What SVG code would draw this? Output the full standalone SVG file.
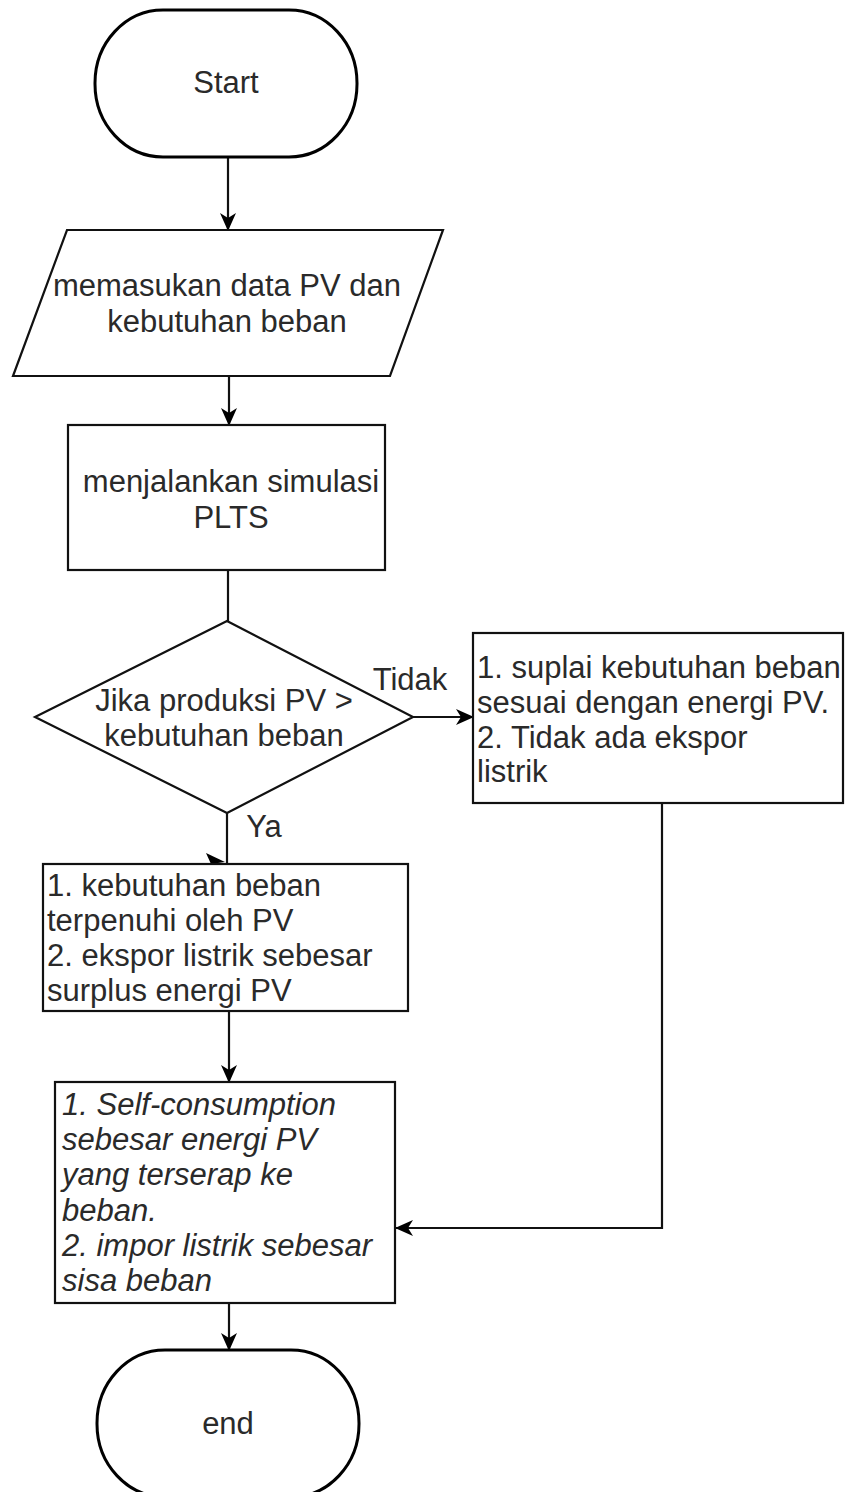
<svg xmlns="http://www.w3.org/2000/svg" width="846" height="1492" viewBox="0 0 846 1492">
<defs>
<style>
.shape{fill:#fff;stroke:#111;stroke-width:2.2}
.term{fill:#fff;stroke:#000;stroke-width:3}
.t{font-family:"Liberation Sans",Arial,sans-serif;font-size:31px;fill:#2a2a2a}
.c{text-anchor:middle}
.i{font-style:italic}
.conn{fill:none;stroke:#111;stroke-width:2.2}
</style>
<marker id="arr" markerUnits="userSpaceOnUse" viewBox="0 0 18 16" markerWidth="18" markerHeight="16" refX="17" refY="8" orient="auto">
<path d="M0,0 L18,8 L0,16 L5,8 z" fill="#000"/>
</marker>
</defs>
<g id="connectors">
<line class="conn" x1="228" y1="157" x2="228" y2="230" marker-end="url(#arr)"/>
<line class="conn" x1="229" y1="376" x2="229" y2="425" stroke-width="3.2" marker-end="url(#arr)"/>
<line class="conn" x1="228" y1="570" x2="228" y2="621"/>
<line class="conn" x1="413" y1="717" x2="473" y2="717" marker-end="url(#arr)"/>
<line class="conn" x1="227" y1="813" x2="227" y2="864"/>
<polygon points="206,853 225,862 211,864" fill="#000"/>
<line class="conn" x1="229" y1="1011" x2="229" y2="1082" marker-end="url(#arr)"/>
<polyline class="conn" points="662,803 662,1228 396,1228" marker-end="url(#arr)"/>
<line class="conn" x1="229" y1="1303" x2="229" y2="1350" marker-end="url(#arr)"/>
<text class="t c" x="410" y="690">Tidak</text>
<text class="t c" x="264" y="837">Ya</text>
</g>
<g id="start">
<rect class="term" x="95" y="10" width="262" height="147" rx="68" ry="73"/>
<text class="t c" x="226" y="93">Start</text>
</g>
<g id="input">
<polygon class="shape" points="67,230 443,230 390,376 13,376"/>
<text class="t c" x="227" y="296">memasukan data PV dan</text>
<text class="t c" x="227" y="332">kebutuhan beban</text>
</g>
<g id="simulasi">
<rect class="shape" x="68" y="425" width="317" height="145"/>
<text class="t c" x="231" y="492">menjalankan simulasi</text>
<text class="t c" x="231" y="528">PLTS</text>
</g>
<g id="decision">
<polygon class="shape" points="227,621 413,717 227,813 35,717"/>
<text class="t c" x="224" y="711">Jika produksi PV &gt;</text>
<text class="t c" x="224" y="746">kebutuhan beban</text>
</g>
<g id="tidak-box">
<rect class="shape" x="473" y="633" width="370" height="170"/>
<text class="t" x="477" y="678">1. suplai kebutuhan beban</text>
<text class="t" x="477" y="713">sesuai dengan energi PV.</text>
<text class="t" x="477" y="748">2. Tidak ada ekspor</text>
<text class="t" x="477" y="782">listrik</text>
</g>
<g id="ya-box">
<rect class="shape" x="43" y="864" width="365" height="147"/>
<text class="t" x="47" y="896">1. kebutuhan beban</text>
<text class="t" x="47" y="931">terpenuhi oleh PV</text>
<text class="t" x="47" y="966">2. ekspor listrik sebesar</text>
<text class="t" x="47" y="1001">surplus energi PV</text>
</g>
<g id="result">
<rect class="shape" x="55" y="1082" width="340" height="221"/>
<text class="t i" x="62" y="1115">1. Self-consumption</text>
<text class="t i" x="62" y="1150">sebesar energi PV</text>
<text class="t i" x="62" y="1185">yang terserap ke</text>
<text class="t i" x="62" y="1221">beban.</text>
<text class="t i" x="62" y="1256">2. impor listrik sebesar</text>
<text class="t i" x="62" y="1291">sisa beban</text>
</g>
<g id="end">
<rect class="term" x="97" y="1350" width="262" height="147" rx="68" ry="73"/>
<text class="t c" x="228" y="1434">end</text>
</g>
</svg>
